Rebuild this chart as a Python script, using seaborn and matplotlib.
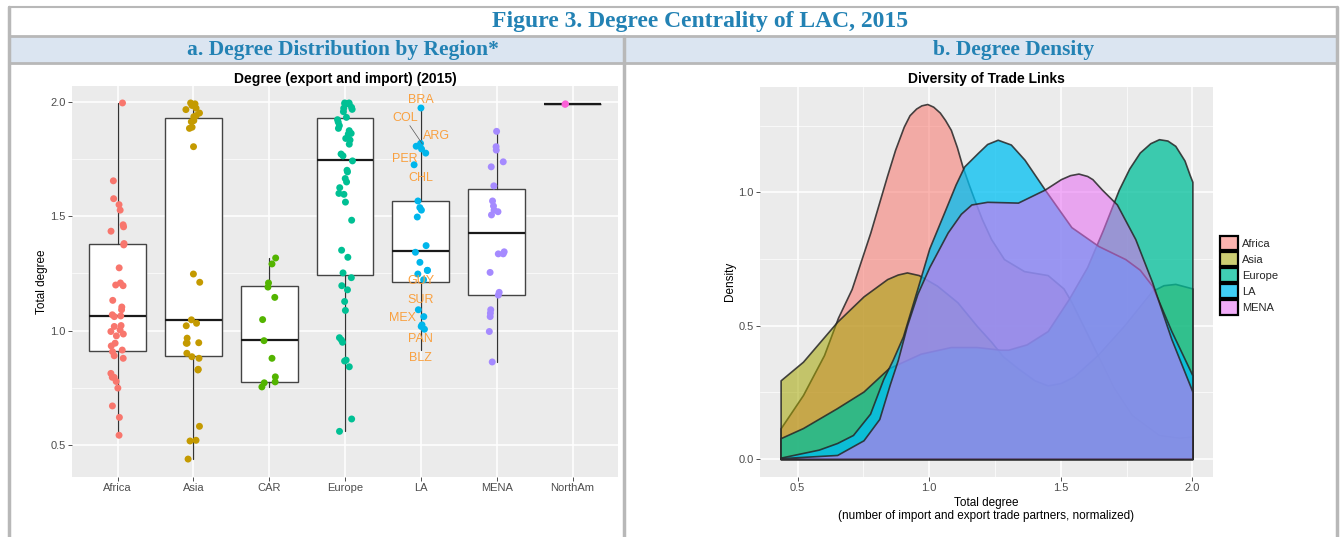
import matplotlib
matplotlib.use("Agg")
import matplotlib.pyplot as plt
from matplotlib.patches import Rectangle, Patch
from matplotlib.lines import Line2D
from matplotlib.colors import to_rgba
from matplotlib.ticker import FixedLocator
import seaborn as sns
import pandas as pd

# ---------------- data: left panel (jittered points) ----------------
regions = ["Africa", "Asia", "CAR", "Europe", "LA", "MENA", "NorthAm"]
africa_pts = [1.994, 1.654, 1.576, 1.550, 1.526, 1.462, 1.453, 1.434, 1.380, 1.374,
              1.274, 1.208, 1.199, 1.196, 1.132, 1.103, 1.091, 1.069, 1.064, 1.061,
              1.022, 1.018, 1.003, 0.996, 0.985, 0.977, 0.945, 0.933, 0.915, 0.908,
              0.890, 0.879, 0.813, 0.796, 0.796, 0.778, 0.749, 0.671, 0.621, 0.543]
asia_pts = [1.994, 1.990, 1.983, 1.971, 1.965, 1.950, 1.939, 1.934, 1.917, 1.912,
            1.888, 1.883, 1.803, 1.247, 1.211, 1.047, 1.032, 1.021, 0.967, 0.947,
            0.945, 0.945, 0.901, 0.886, 0.879, 0.831, 0.828, 0.582, 0.521, 0.518, 0.439]
car_pts = [1.317, 1.291, 1.208, 1.190, 1.145, 1.048, 0.956, 0.879, 0.798, 0.776, 0.772, 0.754]
europe_pts = [1.994, 1.990, 1.994, 1.990, 1.990, 1.971, 1.966, 1.975, 1.956, 1.931,
              1.921, 1.910, 1.895, 1.883, 1.873, 1.861, 1.858, 1.839, 1.832, 1.814,
              1.771, 1.763, 1.741, 1.700, 1.693, 1.664, 1.649, 1.624, 1.599, 1.595,
              1.561, 1.482, 1.351, 1.320, 1.252, 1.231, 1.196, 1.178, 1.127, 1.088,
              0.969, 0.959, 0.949, 0.871, 0.867, 0.842, 0.614, 0.560]
la_pts = [1.972, 1.817, 1.805, 1.793, 1.775, 1.724, 1.566, 1.537, 1.526, 1.496,
          1.371, 1.342, 1.298, 1.263, 1.263, 1.247, 1.222, 1.091, 1.061, 1.025, 1.018, 1.006]
mena_pts = [1.870, 1.803, 1.788, 1.737, 1.715, 1.632, 1.566, 1.544, 1.526, 1.519,
            1.505, 1.344, 1.335, 1.335, 1.254, 1.167, 1.155, 1.091, 1.076, 1.061, 0.996, 0.863]
northam_pts = [1.990, 1.988]

# box statistics
box_q1 = [0.911, 0.890, 0.775, 1.243, 1.211, 1.157, 1.990]
box_med = [1.064, 1.048, 0.959, 1.746, 1.347, 1.425, 1.990]
box_q3 = [1.377, 1.927, 1.195, 1.927, 1.564, 1.618, 1.990]
box_whislo = [0.543, 0.439, 0.754, 0.560, 0.915, 0.863, 1.990]
box_whishi = [1.994, 1.994, 1.317, 1.994, 1.975, 1.870, 1.990]

# LA country labels (name, value level of the label)
la_labels = ["BRA", "COL", "ARG", "PER", "CHL", "GUY", "SUR", "MEX", "PAN", "BLZ"]
la_label_y = [2.009, 1.927, 1.851, 1.749, 1.668, 1.218, 1.135, 1.054, 0.962, 0.879]

# ---------------- data: right panel (density curves) ----------------
dens_groups = ["Africa", "Asia", "Europe", "LA", "MENA"]
africa_dx = [0.435, 0.52, 0.60, 0.653, 0.705, 0.776, 0.839, 0.87, 0.903, 0.925, 0.95,
             0.97, 0.9925, 1.015, 1.04, 1.06, 1.082, 1.105, 1.126, 1.15, 1.171, 1.20,
             1.235, 1.284, 1.36, 1.45, 1.51, 1.54, 1.60, 1.64, 1.70, 1.77, 1.873,
             1.95, 2.0]
africa_dy = [0.115, 0.24, 0.39, 0.53, 0.638, 0.85, 1.061, 1.16, 1.247, 1.29, 1.315,
             1.327, 1.332, 1.322, 1.30, 1.272, 1.235, 1.17, 1.098, 1.03, 0.974, 0.90,
             0.825, 0.75, 0.705, 0.69, 0.64, 0.59, 0.47, 0.39, 0.27, 0.165, 0.09,
             0.08, 0.085]
asia_dx = [0.435, 0.52, 0.65, 0.75, 0.84, 0.88, 0.915, 0.96, 1.03, 1.107, 1.18, 1.235,
           1.28, 1.337, 1.40, 1.45, 1.50, 1.55, 1.64, 1.74, 1.846, 1.89, 1.935, 2.0]
asia_dy = [0.295, 0.365, 0.515, 0.61, 0.675, 0.692, 0.70, 0.69, 0.65, 0.588, 0.50, 0.44,
           0.385, 0.34, 0.295, 0.276, 0.285, 0.31, 0.39, 0.50, 0.63, 0.652, 0.657, 0.64]
europe_dx = [0.435, 0.52, 0.648, 0.75, 0.845, 0.967, 1.082, 1.18, 1.27, 1.30, 1.37,
             1.45, 1.53, 1.60, 1.66, 1.72, 1.76, 1.80, 1.84, 1.873, 1.905, 1.935,
             1.97, 1.99, 2.0]
europe_dy = [0.078, 0.116, 0.19, 0.253, 0.34, 0.395, 0.42, 0.42, 0.41, 0.41, 0.43,
             0.48, 0.60, 0.72, 0.86, 1.01, 1.09, 1.15, 1.185, 1.20, 1.195, 1.175,
             1.12, 1.065, 1.04]
la_dx = [0.435, 0.58, 0.65, 0.71, 0.775, 0.825, 0.86, 0.90, 0.955, 1.00, 1.056,
         1.10, 1.133, 1.184, 1.22, 1.26, 1.31, 1.362, 1.439, 1.54, 1.643, 1.745,
         1.80, 1.847, 1.92, 2.0]
la_dy = [0.005, 0.035, 0.06, 0.09, 0.17, 0.30, 0.37, 0.46, 0.64, 0.79, 0.924,
         1.03, 1.098, 1.148, 1.182, 1.198, 1.18, 1.123, 1.011, 0.87, 0.799, 0.75,
         0.71, 0.65, 0.48, 0.314]
mena_dx = [0.435, 0.65, 0.75, 0.81, 0.85, 0.88, 0.915, 0.955, 1.00, 1.07, 1.12,
           1.16, 1.22, 1.30, 1.337, 1.439, 1.50, 1.535, 1.567, 1.60, 1.62, 1.656,
           1.713, 1.783, 1.847, 1.92, 2.0]
mena_dy = [0.003, 0.015, 0.07, 0.15, 0.28, 0.37, 0.50, 0.62, 0.72, 0.85, 0.92,
           0.955, 0.965, 0.963, 0.962, 1.011, 1.05, 1.065, 1.071, 1.062, 1.05, 1.011,
           0.955, 0.825, 0.663, 0.45, 0.253]

left_palette = {"Africa": "#F8766D", "Asia": "#C49A00", "CAR": "#53B400", "Europe": "#00C094",
                "LA": "#00B6EB", "MENA": "#A58AFF", "NorthAm": "#FB61D7"}
dens_palette = {"Africa": "#F8766D", "Asia": "#A3A500", "Europe": "#00BF9A",
                "LA": "#00BFF2", "MENA": "#E76BF3"}
dens_alpha = {"Africa": 0.55, "Asia": 0.55, "Europe": 0.75, "LA": 0.75, "MENA": 0.55}

# ---------------- figure ----------------
sns.set_theme(style="white")
plt.rcParams["font.family"] = ["Liberation Sans", "DejaVu Sans"]

W, H = 1344, 537
fig = plt.figure(figsize=(W / 100, H / 100), dpi=100)
fig.patch.set_facecolor("white")

def fx(px):
    return px / W

def fy(py):
    return 1 - py / H

# table frame and header band
blue_txt = "#2382B4"
frame_c = "#B8B8B8"
fig.add_artist(Rectangle((fx(9), fy(63)), fx(1337) - fx(9), fy(36) - fy(63),
                         transform=fig.transFigure, facecolor="#DBE5F1", edgecolor="none", zorder=0))
for (x0, y0, x1, y1, lw) in [(9, 7, 1337, 7, 1.5), (9, 36, 1337, 36, 2.0), (9, 63, 1337, 63, 2.0),
                             (9, 7, 9, 537, 2.5), (1337, 7, 1337, 537, 2.5), (624, 36, 624, 537, 2.5)]:
    fig.add_artist(Line2D([fx(x0), fx(x1)], [fy(y0), fy(y1)], transform=fig.transFigure,
                          color=frame_c, lw=lw, zorder=1))

fig.text(fx(700), fy(21), "Figure 3. Degree Centrality of LAC, 2015", ha="center", va="center",
         family="Liberation Serif", fontweight="bold", fontsize=17, color=blue_txt)
fig.text(fx(343), fy(50), "a. Degree Distribution by Region*", ha="center", va="center",
         family="Liberation Serif", fontweight="bold", fontsize=15.5, color=blue_txt)
fig.text(fx(1014), fy(50), "b. Degree Density", ha="center", va="center",
         family="Liberation Serif", fontweight="bold", fontsize=15.5, color=blue_txt)

panel_bg = "#EBEBEB"
tick_c = "#4D4D4D"

def style_axes(ax):
    ax.set_facecolor(panel_bg)
    for s in ax.spines.values():
        s.set_visible(False)
    ax.grid(True, which="major", color="white", lw=1.1, zorder=0)
    ax.grid(True, which="minor", color="white", lw=0.5, zorder=0)
    ax.set_axisbelow(True)
    ax.tick_params(which="major", length=3, width=0.6, color="#333333",
                   labelcolor=tick_c, labelsize=8, pad=1.5, bottom=True, left=True)
    ax.tick_params(which="minor", length=0)

# ---------------- left panel ----------------
ax1 = fig.add_axes([fx(72), fy(476.7), fx(618) - fx(72), fy(86) - fy(476.7)])
pts_lists = [africa_pts, asia_pts, car_pts, europe_pts, la_pts, mena_pts, northam_pts]
df = pd.DataFrame({"region": [r for r, p in zip(regions, pts_lists) for _ in p],
                   "degree": [v for p in pts_lists for v in p]})

stats = [dict(med=m, q1=a, q3=b, whislo=lo, whishi=hi, fliers=[], label=r)
         for r, a, m, b, lo, hi in zip(regions, box_q1, box_med, box_q3, box_whislo, box_whishi)]
ax1.bxp(stats, positions=list(range(len(regions))), widths=0.75, showfliers=False,
        showcaps=False, patch_artist=True,
        boxprops=dict(facecolor="white", edgecolor="#444444", lw=1.0),
        medianprops=dict(color="#1A1A1A", lw=1.6),
        whiskerprops=dict(color="#333333", lw=0.9), zorder=2)

sns.stripplot(data=df, x="region", y="degree", hue="region", order=regions,
              palette=left_palette, jitter=0.1, size=5, linewidth=0, ax=ax1,
              legend=False, zorder=3)

la_pos = regions.index("LA")
label_dx = {"COL": -0.21, "ARG": 0.21, "PER": -0.21, "MEX": -0.24}
for name, yv in zip(la_labels, la_label_y):
    ax1.text(la_pos + label_dx.get(name, 0.0), yv, name, ha="center", va="center",
             fontsize=9, color="#F9A03F", zorder=4)
ax1.plot([la_pos - 0.145, la_pos + 0.02], [1.895, 1.815], color="#555555", lw=0.5, zorder=4)

ax1.set_xlim(-0.6, len(regions) - 0.4)
ax1.set_ylim(0.362, 2.068)
ax1.yaxis.set_major_locator(FixedLocator([0.5, 1.0, 1.5, 2.0]))
ax1.yaxis.set_minor_locator(FixedLocator([0.75, 1.25, 1.75]))
ax1.set_xticks(range(len(regions)))
ax1.set_xticklabels(regions)
ax1.set_yticklabels(["0.5", "1.0", "1.5", "2.0"])
style_axes(ax1)
ax1.set_xlabel("")
ax1.set_ylabel("Total degree", fontsize=8.5, color="black", labelpad=2)
ax1.set_title("Degree (export and import) (2015)", fontsize=10, fontweight="bold",
              color="black", pad=2)

# ---------------- right panel ----------------
ax2 = fig.add_axes([fx(760), fy(476.7), fx(1213) - fx(760), fy(86.7) - fy(476.7)])
dens_x = [africa_dx, asia_dx, europe_dx, la_dx, mena_dx]
dens_y = [africa_dy, asia_dy, europe_dy, la_dy, mena_dy]
for g, xs, ys in zip(dens_groups, dens_x, dens_y):
    ax2.fill_between(xs, ys, 0, facecolor=to_rgba(dens_palette[g], dens_alpha[g]),
                     edgecolor=to_rgba("#262626", 0.85), lw=1.2, zorder=2)

ax2.set_xlim(0.435 - 0.0783, 2.0 + 0.0783)
ax2.set_ylim(-0.0666, 1.397)
ax2.xaxis.set_major_locator(FixedLocator([0.5, 1.0, 1.5, 2.0]))
ax2.xaxis.set_minor_locator(FixedLocator([0.75, 1.25, 1.75]))
ax2.yaxis.set_major_locator(FixedLocator([0.0, 0.5, 1.0]))
ax2.yaxis.set_minor_locator(FixedLocator([0.25, 0.75, 1.25]))
ax2.set_xticklabels(["0.5", "1.0", "1.5", "2.0"])
ax2.set_yticklabels(["0.0", "0.5", "1.0"])
style_axes(ax2)
ax2.set_xlabel("Total degree\n(number of import and export trade partners, normalized)",
               fontsize=8.5, color="black", labelpad=3, linespacing=1.1)
ax2.set_ylabel("Density", fontsize=8.5, color="black", labelpad=2)
ax2.set_title("Diversity of Trade Links", fontsize=10, fontweight="bold", color="black", pad=3)

handles = [Patch(facecolor=to_rgba(dens_palette[g], dens_alpha[g]), edgecolor="black", lw=1.6, label=g)
           for g in dens_groups]
fig.legend(handles=handles, loc="upper left", bbox_to_anchor=(fx(1220), fy(236)),
           bbox_transform=fig.transFigure, frameon=False, fontsize=8,
           handlelength=1.6, handleheight=1.6, labelspacing=0.16, handletextpad=0.4,
           borderaxespad=0, borderpad=0)

fig.savefig("out.png", dpi=100, facecolor="white")
